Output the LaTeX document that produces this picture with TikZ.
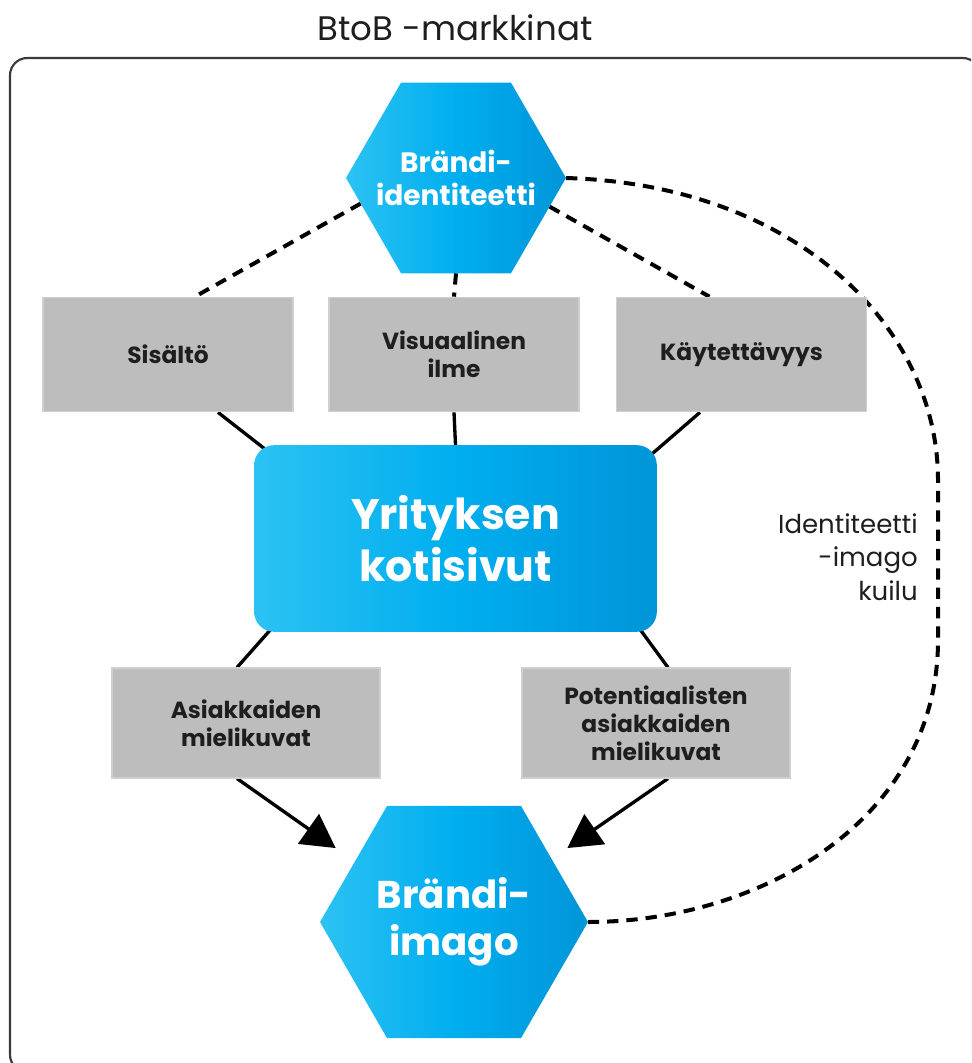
\documentclass[tikz,border=0pt]{standalone}
\usepackage{fontspec}
\setmainfont{Poppins}
\usepackage{xcolor}
\usepackage{tikz}
\usetikzlibrary{shapes.geometric,arrows.meta,backgrounds}
\definecolor{BBLeft}{HTML}{2CC2F3}
\definecolor{BBMid}{HTML}{00AEEF}
\definecolor{BBRight}{HTML}{0095D9}
\definecolor{BBGray}{HTML}{BDBDBD}
\definecolor{BBEdge}{HTML}{CFCFCF}
\definecolor{BBInk}{HTML}{1E1E1E}
\definecolor{BBLine}{HTML}{000000}
\definecolor{BBFrame}{HTML}{3A3A3A}

\tikzset{
  bluefill/.style={left color=BBLeft,right color=BBRight,middle color=BBMid,text=white,align=center},
  hexa/.style={bluefill,regular polygon,regular polygon sides=6,inner sep=-20pt,outer sep=0pt},
  graybox/.style={fill=BBGray,draw=BBEdge,line width=0.8pt,text=BBInk,align=center,
    font=\fontsize{17.5}{21}\selectfont\bfseries},
  link/.style={line width=2.5pt,draw=BBLine},
  dashlink/.style={line width=3pt,draw=BBLine,dash pattern=on 8.5pt off 6pt},
}

\begin{document}
\begin{tikzpicture}[x=0.75pt,y=-0.75pt]
\useasboundingbox (0,0) rectangle (971,1063);
% market frame, runs off the right and bottom edges
\begin{scope}
  \clip (0,0) rectangle (971,1063);
  \draw[BBFrame,line width=1.6pt,rounded corners=13pt] (10,58) rectangle (980,1072);
\end{scope}
\node[text=BBInk,font=\fontsize{25.5}{30}\selectfont] (ttl) at (455,28) {BtoB -markkinat};

% hexagons and the home page box
\node[hexa,minimum size=165pt,font=\fontsize{21}{25}\selectfont\bfseries] (idh) at (456,178) {Brändi-\\identiteetti};
\node[bluefill,rounded corners=15pt,minimum width=302pt,minimum height=140pt,
  font=\fontsize{32}{39}\selectfont\bfseries] (web) at (455.5,538.5) {Yrityksen\\kotisivut};
\node[hexa,minimum size=201pt,font=\fontsize{29}{35}\selectfont\bfseries] (bim) at (454,922) {Brändi-\\imago};

% gray boxes
\node[graybox,minimum width=187.5pt,minimum height=86pt] (sis) at (168,354.5) {Sisältö};
\node[graybox,minimum width=187.5pt,minimum height=86pt] (vis) at (454,354.5) {Visuaalinen\\ilme};
\node[graybox,minimum width=187.5pt,minimum height=86pt] (kay) at (741.5,354.5) {Käytettävyys};
\node[graybox,minimum width=201pt,minimum height=82.5pt] (asi) at (246,723) {Asiakkaiden\\mielikuvat};
\node[graybox,minimum width=201pt,minimum height=82.5pt] (pot) at (656,723) {Potentiaalisten\\asiakkaiden\\mielikuvat};

\node[anchor=east,align=right,inner sep=0pt,text=BBInk,font=\fontsize{19.5}{25}\selectfont] (gap) at (918,557) {Identiteetti\\-imago\\kuilu};

\begin{scope}[on background layer]
  \draw[dashlink] (idh.195) -- (sis.65);
  \draw[dashlink] (idh.south) -- (vis.north);
  \draw[dashlink] (idh.-17) -- (kay.119);
  \draw[link] ([shift={(50,0)}]sis.south) -- ([shift={(16,8)}]web.north west);
  \draw[link] (vis.south) -- (web.north);
  \draw[link] ([shift={(-41.5,0)}]kay.south) -- ([shift={(-12,15)}]web.north east);
  \draw[link] ([shift={(18,-4)}]web.south west) -- ([shift={(-9,0)}]asi.north);
  \draw[link] ([shift={(-18,-4)}]web.south east) -- ([shift={(12,0)}]pot.north);
  \draw[link,-{Triangle[length=25pt,width=27pt]}] ([shift={(-9,0)}]asi.south) -- ([shift={(-27,0)}]bim.141);
  \draw[link,-{Triangle[length=25pt,width=27pt]}] ([shift={(12,0)}]pot.south) -- ([shift={(22,0)}]bim.39);
  % gap between identity and image
  \draw[dashlink] (idh.east) .. controls (800,185) and (938,330) .. (938,480)
    -- (938,640) .. controls (938,820) and (760,922) .. (bim.east);
\end{scope}
\end{tikzpicture}
\end{document}
